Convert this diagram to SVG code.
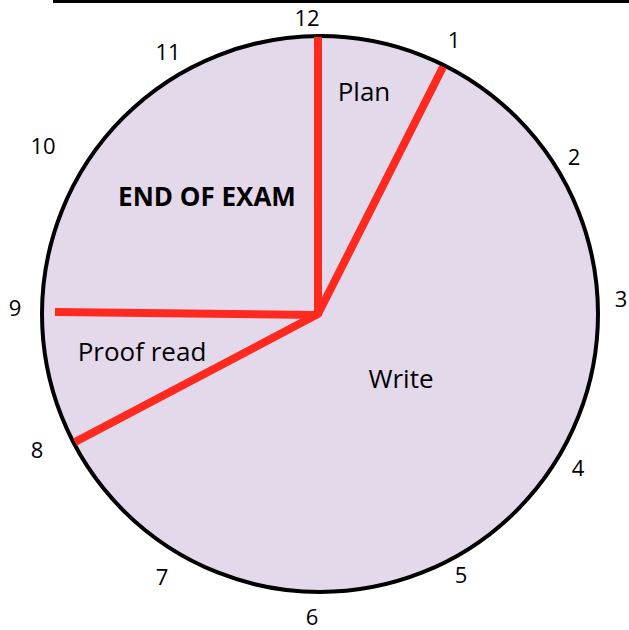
<svg xmlns="http://www.w3.org/2000/svg" width="629" height="630" viewBox="0 0 629 630">
<style>
.num{font-family:"Open Sans","Liberation Sans",sans-serif;font-size:22px;fill:#000;text-anchor:middle}
.lbl{font-family:"Open Sans","Liberation Sans",sans-serif;font-size:26px;fill:#000;text-anchor:middle}
.hand{stroke:#ff2a1f;stroke-width:8;stroke-linecap:butt;fill:none}
</style>
<rect width="629" height="630" fill="#fff"/>
<line x1="53" y1="1.5" x2="629" y2="1.5" stroke="#000" stroke-width="3"/>
<g id="clock-face">
<circle cx="320" cy="314" r="278" fill="#e4d9eb" stroke="#000" stroke-width="4"/>
</g>
<g id="hands">
<line class="hand" x1="318" y1="37" x2="318" y2="316"/>
<polyline class="hand" points="443,67 318,314 75,442" stroke-linejoin="round"/>
<line class="hand" x1="55" y1="312" x2="318" y2="315"/>
</g>
<g id="numbers">
<text class="num" x="307" y="26">12</text>
<text class="num" x="454" y="48">1</text>
<text class="num" x="574" y="165">2</text>
<text class="num" x="621" y="307">3</text>
<text class="num" x="578" y="476">4</text>
<text class="num" x="461" y="583">5</text>
<text class="num" x="312" y="625">6</text>
<text class="num" x="162" y="585">7</text>
<text class="num" x="37" y="458">8</text>
<text class="num" x="15" y="316">9</text>
<text class="num" x="43" y="154">10</text>
<text class="num" x="168" y="60">11</text>
</g>
<g id="labels">
<text class="lbl" x="364" y="101">Plan</text>
<text class="lbl" x="207" y="206" font-weight="bold" font-size="28">END OF EXAM</text>
<text class="lbl" x="142" y="361">Proof read</text>
<text class="lbl" x="401" y="388">Write</text>
</g>
</svg>
